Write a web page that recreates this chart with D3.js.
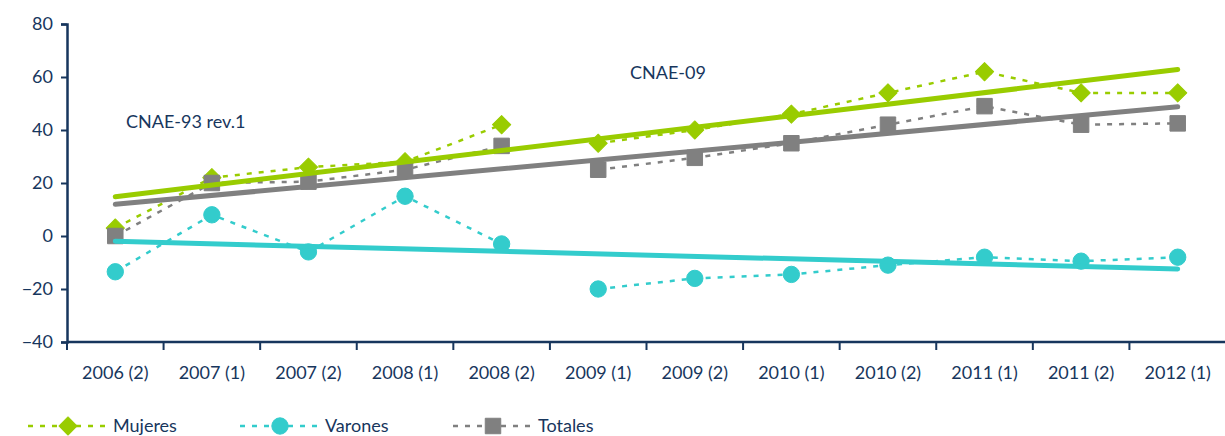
<!DOCTYPE html>
<html>
<head>
<meta charset="utf-8">
<script src="https://cdn.jsdelivr.net/npm/d3@7"></script>
<style>
  body { margin: 0; background: #fff; }
  text { font-family: Lato, sans-serif; fill: #17365d; }
</style>
</head>
<body>
<div id="chart"></div>
<script>
// periods on the x axis
var periods = ["2006 (2)", "2007 (1)", "2007 (2)", "2008 (1)", "2008 (2)", "2009 (1)",
  "2009 (2)", "2010 (1)", "2010 (2)", "2011 (1)", "2011 (2)", "2012 (1)"];
var mujeres = [3, 22, 26, 28, 42, 35, 40, 46, 54, 62, 54, 54];
var varones = [-13.5, 8, -6, 15, -3, -20, -16, -14.5, -11, -8, -9.5, -8];
var totales = [0, 20, 20.5, 25, 34, 25, 29.5, 35, 42, 49, 42, 42.5];
var yTicks = [-40, -20, 0, 20, 40, 60, 80];
// the classification changes after 2008 (2): lines break there
var breakAfter = 4;

var W = 1225, H = 436;
var margin = { top: 24, right: 0, bottom: 94, left: 67 };
var width = 1226 - margin.left;
var height = H - margin.top - margin.bottom;

var svg = d3.select('#chart').append('svg')
  .attr('width', W).attr('height', H);
var g = svg.append('g').attr('transform', `translate(${margin.left}, ${margin.top})`);

var x = d3.scaleBand().domain(periods).range([0, width]);
var y = d3.scaleLinear().domain([-40, 80]).range([height, 0]);
var cx = d => x(d) + x.bandwidth() / 2;

var axisColor = '#17365d';

// y axis
var yAxis = g.append('g').call(d3.axisLeft(y).tickValues(yTicks).tickSize(6).tickPadding(8));
// x axis with ticks between categories
var xAxis = g.append('g').attr('transform', `translate(0, ${height})`)
  .call(d3.axisBottom(x).tickSize(0).tickPadding(24));
xAxis.selectAll('.tick')
  .append('line').attr('x1', -x.bandwidth() / 2).attr('x2', -x.bandwidth() / 2)
  .attr('y1', 0).attr('y2', 8);
[yAxis, xAxis].forEach(a => {
  a.select('.domain').attr('stroke', axisColor).attr('stroke-width', 2.5);
  a.selectAll('.tick line').attr('stroke', axisColor).attr('stroke-width', 2);
  a.selectAll('.tick text').style('font-size', '18px').attr('fill', axisColor);
});
xAxis.select('.domain').attr('d', `M0,0H${width}`);

var series = [
  { name: 'Mujeres', values: mujeres, color: '#99cc00', shape: d3.symbolSquare, size: 165, rot: 45 },
  { name: 'Varones', values: varones, color: '#33cccc', shape: d3.symbolCircle, size: 210, rot: 0 },
  { name: 'Totales', values: totales, color: '#808080', shape: d3.symbolSquare, size: 240, rot: 0 }
];

// least squares trend over all periods
function trend(vals) {
  var n = vals.length, mx = (n - 1) / 2, my = d3.mean(vals);
  var sxy = d3.sum(vals, (v, i) => (i - mx) * (v - my));
  var sxx = d3.sum(vals, (v, i) => (i - mx) * (i - mx));
  var b = sxy / sxx;
  return [my - b * mx, my + b * (n - 1 - mx)];
}

series.forEach(s => {
  var pts = s.values.map((v, i) => ({ p: periods[i], v: v }));
  var segs = [pts.slice(0, breakAfter + 1), pts.slice(breakAfter + 1)];
  segs.forEach(seg => {
    g.append('path').datum(seg)
      .attr('d', d3.line().x(d => cx(d.p)).y(d => y(d.v)))
      .attr('fill', 'none').attr('stroke', s.color)
      .attr('stroke-width', 2.5).attr('stroke-dasharray', '5,7');
  });
});

// markers
series.forEach(s => {
  g.selectAll(null).data(s.values).join('path')
    .attr('transform', (d, i) => `translate(${cx(periods[i])}, ${y(d)}) rotate(${s.rot})`)
    .attr('d', d3.symbol(s.shape, s.size))
    .attr('fill', s.color)
    .attr('stroke', s.color).attr('stroke-width', 1).attr('stroke-linejoin', 'round');
});

// trend lines on top
series.forEach(s => {
  var t = trend(s.values);
  g.append('line')
    .attr('x1', cx(periods[0])).attr('x2', cx(periods[periods.length - 1]))
    .attr('y1', y(t[0])).attr('y2', y(t[1]))
    .attr('stroke', s.color).attr('stroke-width', 5).attr('stroke-linecap', 'round');
});

// period labels
svg.append('text').attr('x', 126).attr('y', 128).style('font-size', '18px').text('CNAE-93 rev.1');
svg.append('text').attr('x', 630).attr('y', 79).style('font-size', '18px').text('CNAE-09');

// legend
var legX = [28, 240, 453];
series.forEach((s, i) => {
  var lg = svg.append('g').attr('transform', `translate(${legX[i]}, 426)`);
  lg.append('line').attr('x1', 0).attr('x2', 80)
    .attr('stroke', s.color).attr('stroke-width', 2.5).attr('stroke-dasharray', '5,7');
  lg.append('path').attr('transform', `translate(40,0) rotate(${s.rot})`)
    .attr('d', d3.symbol(s.shape, s.size)).attr('fill', s.color)
    .attr('stroke', s.color).attr('stroke-width', 1).attr('stroke-linejoin', 'round');
  lg.append('text').attr('x', 85).attr('y', 6).style('font-size', '18px').text(s.name);
});
</script>
</body>
</html>
